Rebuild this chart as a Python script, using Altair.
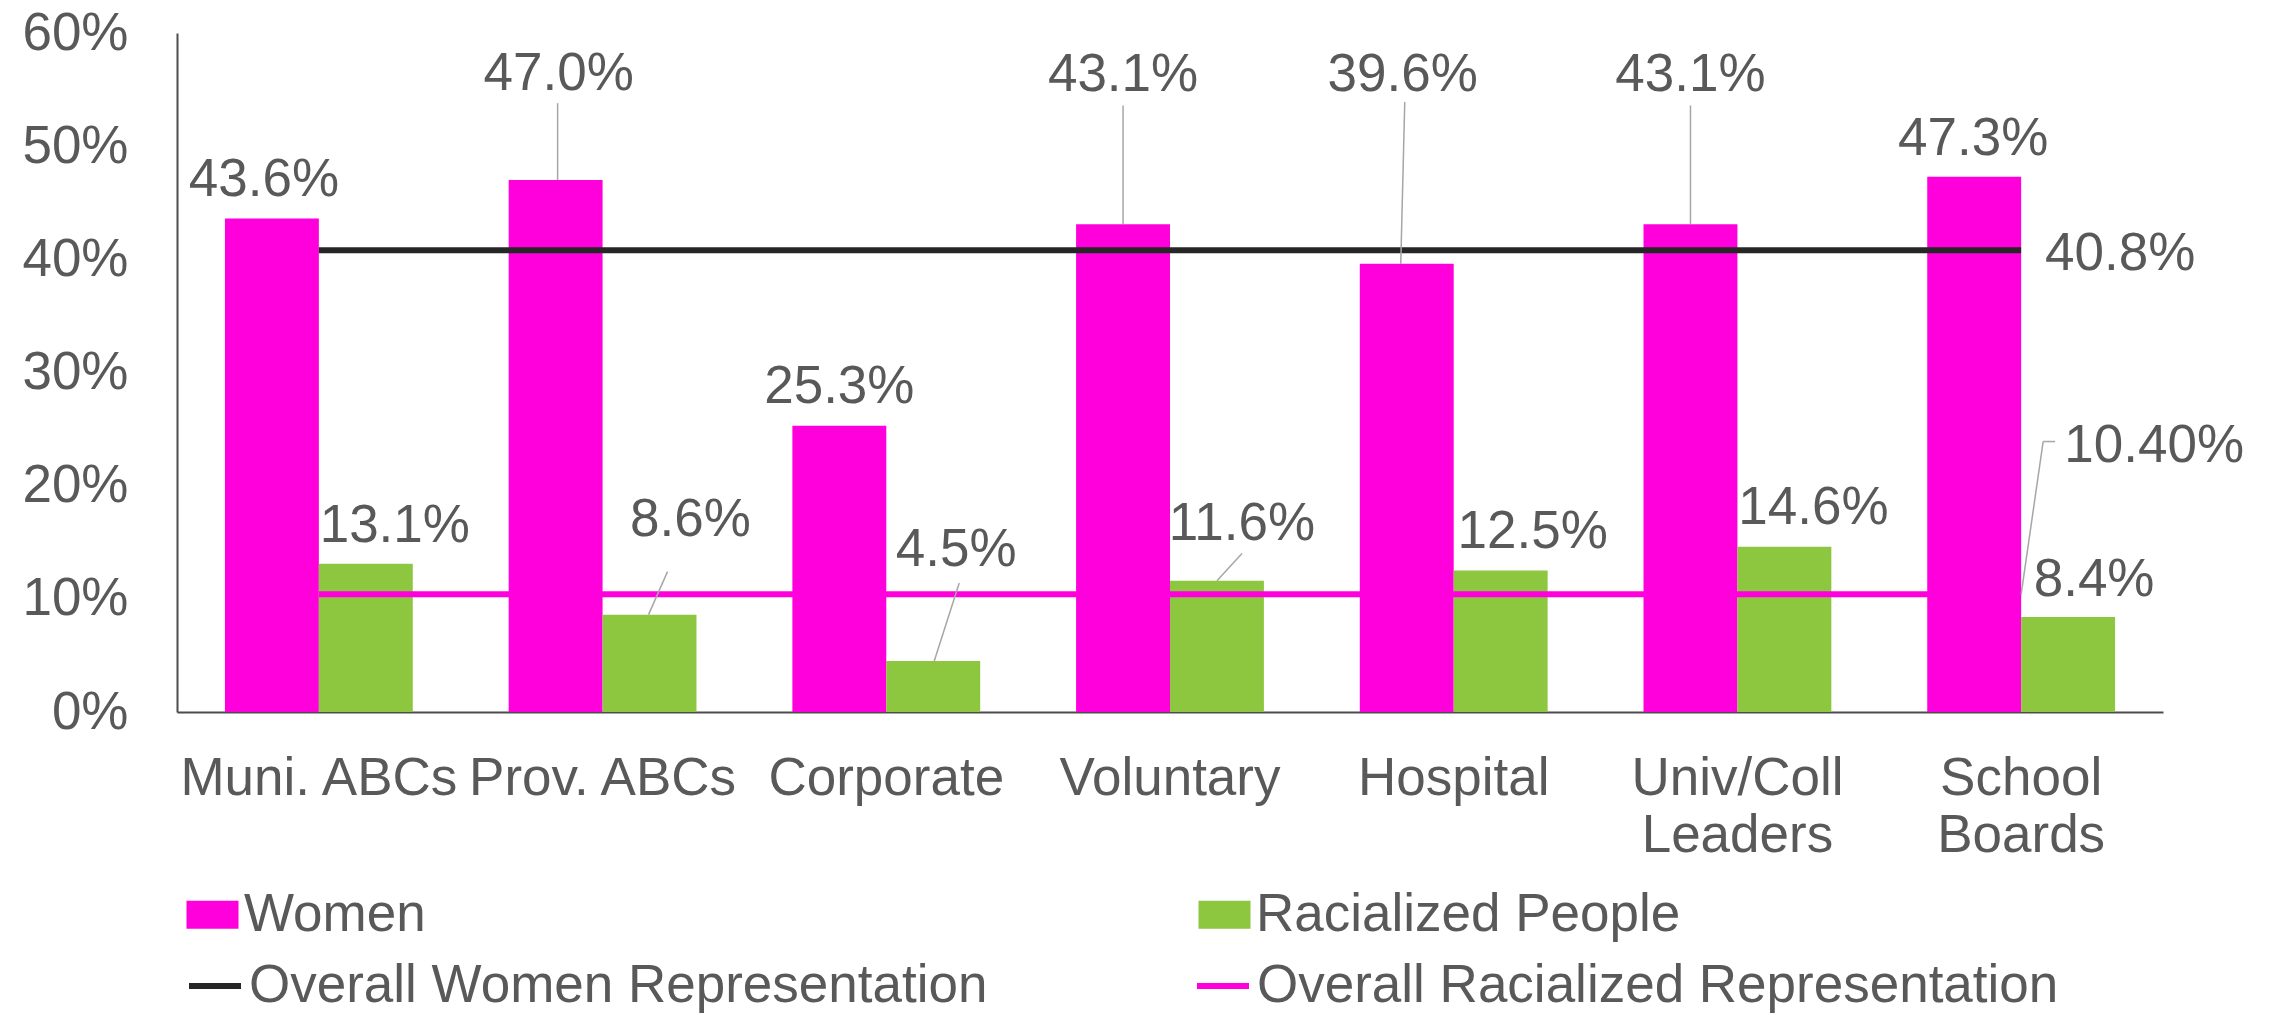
import altair as alt
import pandas as pd

# ---------------- data ----------------
categories = ["Muni. ABCs", "Prov. ABCs", "Corporate", "Voluntary", "Hospital",
              "Univ/Coll\nLeaders", "School\nBoards"]
women = [43.6, 47.0, 25.3, 43.1, 39.6, 43.1, 47.3]
racialized = [13.1, 8.6, 4.5, 11.6, 12.5, 14.6, 8.4]
overall_women = 40.8
overall_racialized = 10.4
series_names = ["Women", "Racialized People"]
overall_names = ["Overall Women Representation", "Overall Racialized Representation"]
y_ticks = [0, 10, 20, 30, 40, 50, 60]

# ---------------- label layout (px offsets from bar centre, label heights in % units) ----------------
women_label_dx = [-8, 3, 0, 0, -4, 0, -1]
women_label_y = [47.4, 56.7, 29.1, 56.6, 56.6, 56.6, 51.0]
racial_label_dx = [29, 41, 23, 25, 32, 29, 26]
racial_label_y = [16.8, 17.3, 14.7, 17.0, 16.3, 18.4, 12.0]
leader_cat = [1, 3, 4, 5, 1, 2, 3]
leader_series = [0, 0, 0, 0, 1, 1, 1]
leader_dx_bottom = [2, 0, -6, 0, -1, 1, 0]
leader_dx_top = [2, 0, -2, 0, 18, 26, 25]
leader_top_y = [53.8, 53.6, 53.9, 53.6, 12.4, 11.4, 14.0]
overall_women_label_dx = 99
overall_racial_label_dx = 133
overall_racial_label_y = 23.9
overall_racial_leader_dx = [22, 34]

# ---------------- style ----------------
PINK = "#FF00DD"
GREEN = "#8DC63F"
BLACK = "#262626"
TEXT = "#595959"
LEADER = "#A6A6A6"
AXIS = "#4D4D4D"
FONT = "Liberation Sans"
FS = 53
W, H = 1986, 679
N = len(categories)
STEP = W / N
PAD_INNER = 0.338
PAD_OUTER = PAD_INNER / 2
HALF = (1 - PAD_INNER) / 4


def bar_x(i, s):
    return i + 0.5 + (HALF if s == 1 else -HALF)


bars_df = pd.DataFrame(
    [{"category": c, "series": series_names[0], "value": v} for c, v in zip(categories, women)]
    + [{"category": c, "series": series_names[1], "value": v} for c, v in zip(categories, racialized)]
)

overall_df = pd.DataFrame({
    "name": overall_names,
    "value": [overall_women, overall_racialized],
    "x0": [0.5, 0.5],
    "x1": [N - 0.5, N - 0.5],
})

text_rows = []
for i, v in enumerate(women):
    text_rows.append({"x": bar_x(i, 0) + women_label_dx[i] / STEP, "y": women_label_y[i], "label": f"{v:.1f}%"})
for i, v in enumerate(racialized):
    text_rows.append({"x": bar_x(i, 1) + racial_label_dx[i] / STEP, "y": racial_label_y[i], "label": f"{v:.1f}%"})
text_rows.append({"x": N - 0.5 + overall_women_label_dx / STEP, "y": overall_women, "label": f"{overall_women:.1f}%"})
text_rows.append({"x": N - 0.5 + overall_racial_label_dx / STEP, "y": overall_racial_label_y,
                  "label": f"{overall_racialized:.2f}%"})
text_df = pd.DataFrame(text_rows)

leader_rows = []
for c, s, db, dt, ty in zip(leader_cat, leader_series, leader_dx_bottom, leader_dx_top, leader_top_y):
    val = women[c] if s == 0 else racialized[c]
    leader_rows.append({"x": bar_x(c, s) + db / STEP, "y": val, "x2": bar_x(c, s) + dt / STEP, "y2": ty})
ox = N - 0.5
leader_rows.append({"x": ox, "y": overall_racialized, "x2": ox + overall_racial_leader_dx[0] / STEP,
                    "y2": overall_racial_label_y})
leader_rows.append({"x": ox + overall_racial_leader_dx[0] / STEP, "y": overall_racial_label_y,
                    "x2": ox + overall_racial_leader_dx[1] / STEP, "y2": overall_racial_label_y})
leader_df = pd.DataFrame(leader_rows)

Y_SCALE = alt.Scale(domain=[0, 60], nice=False)
XQ = alt.Scale(domain=[0, N], nice=False, zero=False)
Y_AXIS = alt.Axis(values=y_ticks, labelExpr="datum.value + '%'", ticks=False, grid=False,
                  domainColor=AXIS, domainWidth=2, labelFontSize=FS, labelFont=FONT,
                  labelColor=TEXT, labelPadding=49, labelLimit=400)
X_AXIS = alt.Axis(labelExpr="split(datum.label, '\\n')", labelAngle=0, ticks=False,
                  domainColor=AXIS, domainWidth=2, labelFontSize=FS, labelFont=FONT,
                  labelColor=TEXT, labelPadding=40, labelLineHeight=57, labelLimit=600)

RECT = "M-1,-0.54H1V0.54H-1Z"

bars = alt.Chart(bars_df).mark_bar().encode(
    x=alt.X("category:N", sort=categories, title=None, axis=X_AXIS,
            scale=alt.Scale(paddingInner=PAD_INNER, paddingOuter=PAD_OUTER)),
    xOffset=alt.XOffset("series:N", sort=series_names, scale=alt.Scale(paddingInner=0, paddingOuter=0)),
    y=alt.Y("value:Q", scale=Y_SCALE, axis=Y_AXIS, title=None),
    color=alt.Color("series:N", scale=alt.Scale(domain=series_names, range=[PINK, GREEN]),
                    legend=alt.Legend(orient="none", legendX=9, legendY=855, columns=2,
                                      columnPadding=772, symbolType=RECT, symbolSize=2704,
                                      symbolStrokeWidth=0, labelFontSize=FS, labelFont=FONT,
                                      labelColor=TEXT, labelOffset=5, labelLimit=1000, title=None)),
)

rules = alt.Chart(overall_df).mark_rule(strokeWidth=6).encode(
    x=alt.X("x0:Q", scale=XQ, axis=None),
    x2="x1:Q",
    y=alt.Y("value:Q", scale=Y_SCALE, axis=Y_AXIS, title=None),
    stroke=alt.Stroke("name:N", scale=alt.Scale(domain=overall_names, range=[BLACK, PINK]),
                      legend=alt.Legend(orient="none", legendX=9, legendY=924, columns=2,
                                        columnPadding=197, symbolType="stroke", symbolSize=2704,
                                        symbolStrokeWidth=6, labelFontSize=FS, labelFont=FONT,
                                        labelColor=TEXT, labelOffset=5, labelLimit=1000, title=None)),
)

leaders = alt.Chart(leader_df).mark_rule(color=LEADER, strokeWidth=1.5).encode(
    x=alt.X("x:Q", scale=XQ, axis=None),
    x2="x2:Q",
    y=alt.Y("y:Q", scale=Y_SCALE, axis=Y_AXIS, title=None),
    y2="y2:Q",
)

texts = alt.Chart(text_df).mark_text(fontSize=FS, font=FONT, color=TEXT, baseline="middle",
                                     align="center", dy=4).encode(
    x=alt.X("x:Q", scale=XQ, axis=None),
    y=alt.Y("y:Q", scale=Y_SCALE, axis=Y_AXIS, title=None),
    text="label:N",
)

chart = alt.layer(bars, rules, leaders, texts).resolve_scale(x="independent").properties(
    width=W, height=H,
    autosize=alt.AutoSizeParams(type="none"),
    padding={"left": 169, "top": 25, "right": 95, "bottom": 302},
    background="white",
).configure_view(stroke=None)

chart.save("out.html", embed_options={"renderer": "svg", "actions": False})
